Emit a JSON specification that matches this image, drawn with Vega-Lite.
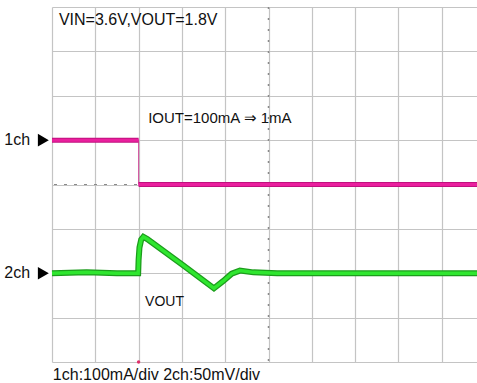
{
  "$schema": "https://vega.github.io/schema/vega-lite/v6.json",
  "width": 425,
  "height": 355,
  "autosize": {"type": "none"},
  "padding": {"left": 52, "top": 7, "right": 0, "bottom": 21},
  "background": "white",
  "config": {"view": {"stroke": null}},
  "datasets": {
    "traces": [
      {"ch": "1a", "t": 0, "v": 5.0, "o": 1},
      {"ch": "1a", "t": 2.0, "v": 5.0, "o": 2},
      {"ch": "1b", "t": 2.0, "v": 4.0, "o": 3},
      {"ch": "1b", "t": 9.82, "v": 4.0, "o": 4},
      {"ch": "2ch", "t": 0, "v": 2.0, "o": 1},
      {"ch": "2ch", "t": 0.8, "v": 2.02, "o": 2},
      {"ch": "2ch", "t": 1.5, "v": 2.0, "o": 3},
      {"ch": "2ch", "t": 1.99, "v": 2.0, "o": 4},
      {"ch": "2ch", "t": 2.0, "v": 2.3, "o": 5},
      {"ch": "2ch", "t": 2.02, "v": 2.58, "o": 6},
      {"ch": "2ch", "t": 2.06, "v": 2.76, "o": 7},
      {"ch": "2ch", "t": 2.11, "v": 2.82, "o": 8},
      {"ch": "2ch", "t": 2.2, "v": 2.77, "o": 9},
      {"ch": "2ch", "t": 3.0, "v": 2.2, "o": 10},
      {"ch": "2ch", "t": 3.74, "v": 1.66, "o": 11},
      {"ch": "2ch", "t": 3.95, "v": 1.82, "o": 12},
      {"ch": "2ch", "t": 4.15, "v": 1.99, "o": 13},
      {"ch": "2ch", "t": 4.34, "v": 2.06, "o": 14},
      {"ch": "2ch", "t": 4.65, "v": 2.02, "o": 15},
      {"ch": "2ch", "t": 5.2, "v": 2.0, "o": 16},
      {"ch": "2ch", "t": 9.82, "v": 2.0, "o": 17}
    ],
    "labels": [
      {"label": "VIN=3.6V,VOUT=1.8V", "t": 0.16, "v": 7.71, "fs": 16},
      {"label": "IOUT=100mA ⇒ 1mA", "t": 2.22, "v": 5.5, "fs": 15},
      {"label": "VOUT", "t": 2.15, "v": 1.35, "fs": 14},
      {"label": "1ch:100mA/div 2ch:50mV/div", "t": 0.02, "v": -0.3, "fs": 16}
    ],
    "chlabels": [
      {"label": "1ch", "t": -1.1, "v": 5.0},
      {"label": "2ch", "t": -1.1, "v": 2.0}
    ]
  },
  "layer": [
    {
      "data": {"name": "traces"},
      "mark": {"type": "rule", "opacity": 0},
      "encoding": {
        "x": {"field": "t", "type": "quantitative", "scale": {"domain": [0, 9.815], "nice": false, "zero": false},
          "axis": {"values": [0,1,2,3,4,5,6,7,8,9], "grid": true, "gridColor": "#c4c4c4", "gridWidth": 1.2, "gridOpacity": 1, "labels": false, "ticks": false, "domain": false, "title": null}},
        "y": {"field": "v", "type": "quantitative", "scale": {"domain": [0, 8], "nice": false, "zero": false},
          "axis": {"values": [0,1,2,3,4,5,6,7,8], "grid": true, "gridColor": "#c4c4c4", "gridWidth": 1.2, "gridOpacity": 1, "labels": false, "ticks": false, "domain": false, "title": null}}
      }
    },
    {
      "data": {"values": [{"v": 4}]},
      "mark": {"type": "rule", "color": "#8a8a8a", "strokeDash": [3, 7], "strokeWidth": 1},
      "encoding": {"y": {"field": "v", "type": "quantitative"}}
    },
    {
      "data": {"values": [{"t": 5}]},
      "mark": {"type": "rule", "color": "#8a8a8a", "strokeDash": [2, 9], "strokeWidth": 1.5},
      "encoding": {"x": {"field": "t", "type": "quantitative"}}
    },
    {
      "data": {"values": [{"t": 2.0, "v1": 4.0, "v2": 5.0}]},
      "mark": {"type": "rule", "color": "#d04a9a", "strokeWidth": 1},
      "encoding": {"x": {"field": "t", "type": "quantitative"}, "y": {"field": "v1", "type": "quantitative"}, "y2": {"field": "v2"}}
    },
    {
      "data": {"name": "traces"},
      "transform": [{"filter": "datum.ch != '2ch'"}],
      "mark": {"type": "line", "color": "#c0117e", "strokeWidth": 5, "strokeCap": "butt"},
      "encoding": {"x": {"field": "t", "type": "quantitative"}, "y": {"field": "v", "type": "quantitative"}, "detail": {"field": "ch"}, "order": {"field": "o"}}
    },
    {
      "data": {"name": "traces"},
      "transform": [{"filter": "datum.ch != '2ch'"}],
      "mark": {"type": "line", "color": "#ea1f9e", "strokeWidth": 3, "strokeCap": "butt"},
      "encoding": {"x": {"field": "t", "type": "quantitative"}, "y": {"field": "v", "type": "quantitative"}, "detail": {"field": "ch"}, "order": {"field": "o"}}
    },
    {
      "data": {"name": "traces"},
      "transform": [{"filter": "datum.ch == '2ch'"}],
      "mark": {"type": "line", "color": "#1c9c1c", "strokeWidth": 6},
      "encoding": {"x": {"field": "t", "type": "quantitative"}, "y": {"field": "v", "type": "quantitative"}, "order": {"field": "o"}}
    },
    {
      "data": {"name": "traces"},
      "transform": [{"filter": "datum.ch == '2ch'"}],
      "mark": {"type": "line", "color": "#2fe62f", "strokeWidth": 3.5},
      "encoding": {"x": {"field": "t", "type": "quantitative"}, "y": {"field": "v", "type": "quantitative"}, "order": {"field": "o"}}
    },
    {
      "data": {"values": [{"t": 2.0, "v": 0}]},
      "mark": {"type": "point", "filled": true, "color": "#e0306a", "size": 12, "opacity": 1},
      "encoding": {"x": {"field": "t", "type": "quantitative"}, "y": {"field": "v", "type": "quantitative"}}
    },
    {
      "data": {"name": "labels"},
      "mark": {"type": "text", "align": "left", "baseline": "middle", "font": "Liberation Sans", "color": "#111"},
      "encoding": {"x": {"field": "t", "type": "quantitative"}, "y": {"field": "v", "type": "quantitative"}, "text": {"field": "label"}, "size": {"field": "fs", "type": "quantitative", "scale": null}}
    },
    {
      "data": {"name": "chlabels"},
      "mark": {"type": "text", "align": "left", "baseline": "middle", "fontSize": 16, "font": "Liberation Sans", "color": "#111"},
      "encoding": {"x": {"field": "t", "type": "quantitative"}, "y": {"field": "v", "type": "quantitative"}, "text": {"field": "label"}}
    },
    {
      "data": {"name": "chlabels"},
      "mark": {"type": "point", "shape": "triangle-right", "filled": true, "color": "#000", "size": 160, "opacity": 1},
      "encoding": {"x": {"datum": -0.2, "type": "quantitative"}, "y": {"field": "v", "type": "quantitative"}}
    }
  ]
}
